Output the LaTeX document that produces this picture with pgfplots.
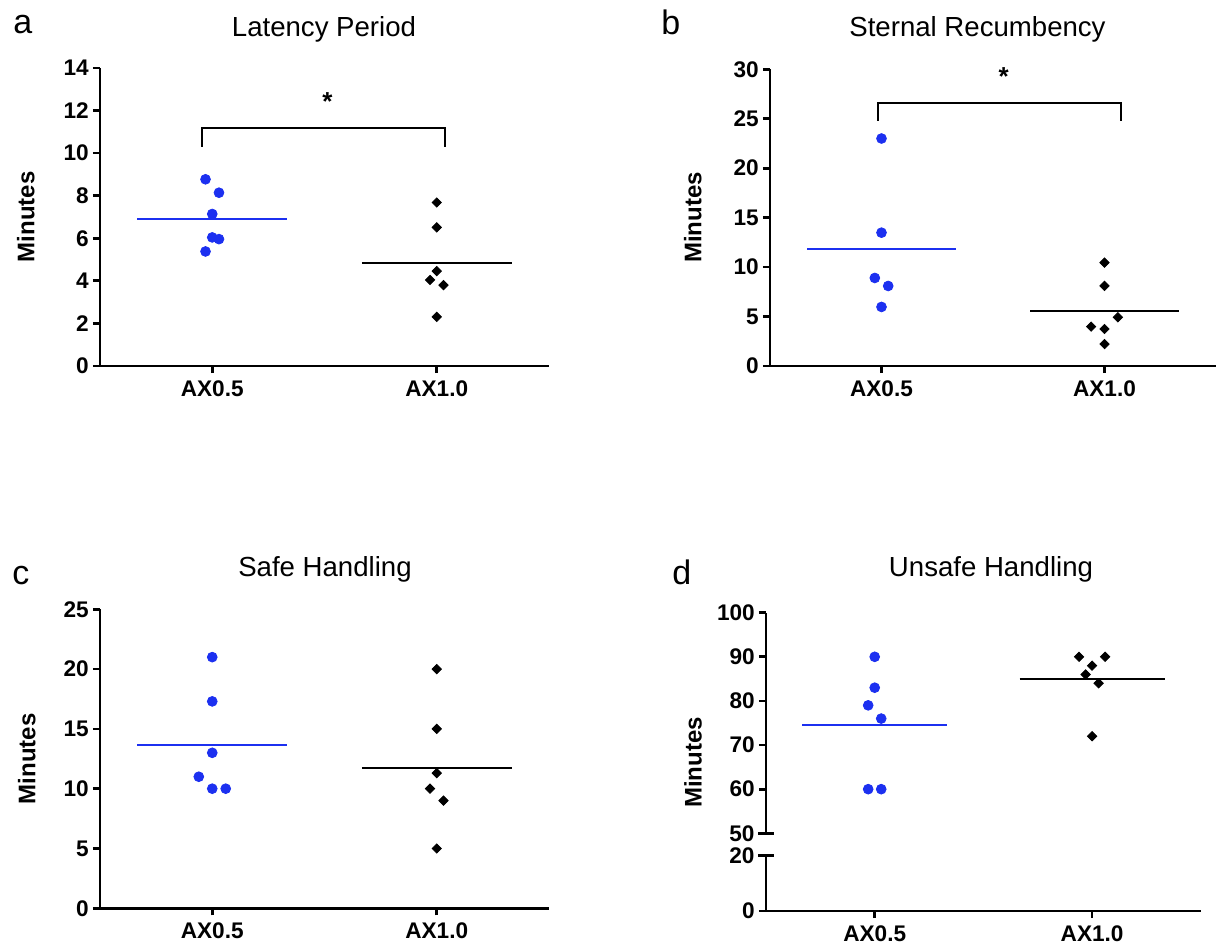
\documentclass[border=0pt]{standalone}
\usepackage{fontspec}
\setmainfont{Liberation Sans}
\usepackage{pgfplots}
\pgfplotsset{compat=1.18}
\definecolor{ptblue}{RGB}{28,48,240}

\pgfplotsset{
  panel/.style={
    scale only axis, anchor=south west, clip=false,
    axis lines*=left,
    axis line style={-, line width=1.35pt},
    tick style={line width=1.35pt, black},
    major tick length=3.6pt, tick align=outside,
    xmin=-0.5, xmax=1.5, xtick={0,1}, xticklabels={AX0.5,AX1.0},
    tick label style={font=\fontsize{11.3}{13}\selectfont\bfseries},
    yticklabel style={inner xsep=1.8pt},
    /pgf/number format/assume math mode=true,
    ylabel={Minutes},
    ylabel style={font=\fontsize{12}{14}\selectfont\bfseries, rotate=0, anchor=center},
    minor tick num=0,
  },
  bluepts/.style={only marks, mark=*, mark size=2.45pt, color=ptblue},
  blackpts/.style={only marks, mark=square*, mark options={rotate=45}, mark size=1.65pt, color=black},
  blueline/.style={no marks, color=ptblue, line width=0.9pt},
  blackline/.style={no marks, color=black, line width=0.9pt},
  bracket/.style={no marks, color=black, line width=0.9pt},
}

\begin{document}
\begin{tikzpicture}
\path[use as bounding box] (0,0) rectangle (610.5pt,472.5pt);

% titles and panel letters
\node[anchor=base, inner sep=0pt, font=\fontsize{13.8}{16}\selectfont] at (162pt,454pt) {Latency Period};
\node[anchor=base, inner sep=0pt, font=\fontsize{13.8}{16}\selectfont] at (488.75pt,454pt) {Sternal Recumbency};
\node[anchor=base, inner sep=0pt, font=\fontsize{13.8}{16}\selectfont] at (162.5pt,184pt) {Safe Handling};
\node[anchor=base, inner sep=0pt, font=\fontsize{13.8}{16}\selectfont] at (495.5pt,184pt) {Unsafe Handling};
\node[anchor=base west, inner sep=0pt, font=\fontsize{17}{20}\selectfont] at (6.5pt,455.5pt) {a};
\node[anchor=base west, inner sep=0pt, font=\fontsize{17}{20}\selectfont] at (330.5pt,455pt) {b};
\node[anchor=base west, inner sep=0pt, font=\fontsize{17}{20}\selectfont] at (6pt,180pt) {c};
\node[anchor=base west, inner sep=0pt, font=\fontsize{17}{20}\selectfont] at (336pt,180pt) {d};

% ---------- a ----------
\begin{axis}[panel, at={(50pt,289.5pt)}, width=224.5pt, height=149pt,
  ymin=0, ymax=14, ytick={0,2,...,14},
  ylabel style={at={(axis description cs:-0.165,0.5)}}]
\addplot[bluepts] coordinates {(-0.03,8.77) (0.03,8.14) (0,7.14) (0,6.04) (0.03,5.96) (-0.03,5.38)};
\addplot[blackpts] coordinates {(1,7.68) (1,6.51) (1,4.46) (0.97,4.04) (1.03,3.80) (1,2.31)};
\addplot[blueline] coordinates {(-0.333,6.92) (0.333,6.92)};
\addplot[blackline] coordinates {(0.667,4.82) (1.333,4.82)};
\addplot[bracket] coordinates {(-0.045,10.3) (-0.045,11.18) (1.036,11.18) (1.036,10.3)};
\node[font=\fontsize{13}{15}\selectfont\bfseries, yshift=-2.8pt] at (axis cs:0.513,12.7) {*};
\end{axis}

% ---------- b ----------
\begin{axis}[panel, at={(385pt,289.5pt)}, width=223pt, height=148.35pt,
  ymin=0, ymax=30, ytick={0,5,...,30},
  ylabel style={at={(axis description cs:-0.173,0.5)}}]
\addplot[bluepts] coordinates {(0,23) (0,13.48) (-0.03,8.9) (0.03,8.09) (0,5.97)};
\addplot[blackpts] coordinates {(1,10.45) (1,8.09) (1.06,4.92) (0.94,3.98) (1,3.74) (1,2.22)};
\addplot[blueline] coordinates {(-0.333,11.86) (0.333,11.86)};
\addplot[blackline] coordinates {(0.667,5.56) (1.333,5.56)};
\addplot[bracket] coordinates {(-0.014,24.8) (-0.014,26.6) (1.075,26.6) (1.075,24.8)};
\node[font=\fontsize{13}{15}\selectfont\bfseries, yshift=-2.8pt] at (axis cs:0.548,29.86) {*};
\end{axis}

% ---------- c ----------
\begin{axis}[panel, at={(50pt,18.35pt)}, width=224.5pt, height=149.5pt,
  ymin=0, ymax=25, ytick={0,5,...,25},
  ylabel style={at={(axis description cs:-0.163,0.5)}}]
\addplot[bluepts] coordinates {(0,21) (0,17.3) (0,13) (-0.06,11) (0,10) (0.06,10)};
\addplot[blackpts] coordinates {(1,20) (1,15) (1,11.3) (0.97,10) (1.03,9) (1,5)};
\addplot[blueline] coordinates {(-0.333,13.68) (0.333,13.68)};
\addplot[blackline] coordinates {(0.667,11.72) (1.333,11.72)};
\end{axis}

% ---------- d (broken axis) ----------
\begin{axis}[panel, at={(383pt,17pt)}, width=217.4pt, height=27.65pt,
  ymin=0, ymax=20, ytick={0},
  extra y ticks={20}, extra y tick style={tick align=center, major tick length=7.6pt},
  ylabel={}]
\end{axis}
\begin{axis}[panel, at={(383pt,55.85pt)}, width=217.4pt, height=110.3pt,
  axis x line=none, axis y line*=left,
  ymin=50, ymax=100, ytick={60,70,...,100},
  extra y ticks={50}, extra y tick style={tick align=center, major tick length=7.6pt},
  ylabel style={at={(axis description cs:-0.168,0.321)}}]
\addplot[bluepts] coordinates {(0,90) (0,83) (-0.03,79) (0.03,76) (-0.03,60) (0.03,60)};
\addplot[blackpts] coordinates {(0.94,90) (1.06,90) (1,88) (0.97,86) (1.03,84) (1,72)};
\addplot[blueline] coordinates {(-0.333,74.6) (0.333,74.6)};
\addplot[blackline] coordinates {(0.667,85) (1.333,85)};
\end{axis}
\end{tikzpicture}
\end{document}
